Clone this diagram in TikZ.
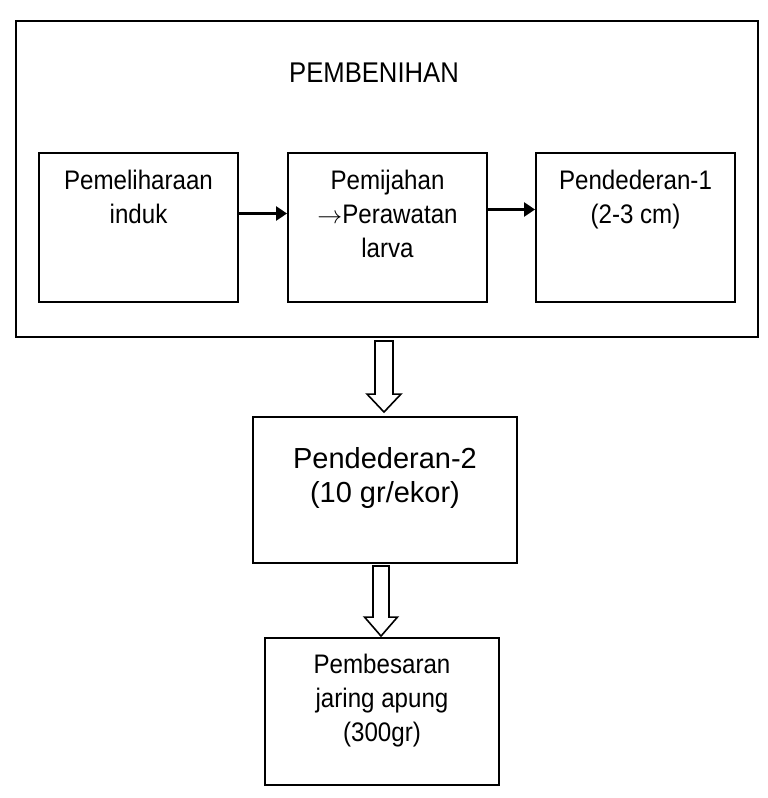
\documentclass[tikz,border=0pt]{standalone}
\usepackage{fontspec}
\setmainfont{Liberation Sans}
\newfontfamily\narrowfont[FakeStretch=0.9]{Liberation Sans}
\usetikzlibrary{calc,arrows.meta}
\begin{document}
\begin{tikzpicture}[x=1pt,y=-1pt,
  box/.style={draw, line width=1.9pt, inner sep=0pt},
  txt/.style={align=center, inner sep=0pt, anchor=north, font=\fontsize{26.8}{34}\selectfont\narrowfont},
  bigtxt/.style={align=center, inner sep=0pt, anchor=north, font=\fontsize{29}{34}\selectfont},
  conn/.style={line width=2.4pt, -{Triangle[length=11pt,width=14pt]}},
  hollow/.style={draw, line width=1.6pt, fill=white, line join=miter}]
\useasboundingbox (0,0) rectangle (768,798);
% outer box
\node[box, minimum width=742pt, minimum height=316pt] (outer) at (387,179) {};
\node[inner sep=0pt, font=\fontsize{28.5}{34}\selectfont\narrowfont] (title) at (374,73) {PEMBENIHAN};
% inner boxes
\node[box, minimum width=199pt, minimum height=149pt] (b1) at (138.5,227.5) {};
\node[box, minimum width=199pt, minimum height=149pt] (b2) at (387.5,227.5) {};
\node[box, minimum width=199pt, minimum height=149pt] (b3) at (635.5,227.5) {};
\node[txt] (t1) at ($(b1.north)+(0,18)$) {Pemeliharaan\\induk};
\node[txt] (t2) at ($(b2.north)+(0,18)$) {Pemijahan\\{\fontsize{30}{34}\selectfont$\rightarrow$}Perawatan\\larva};
\node[txt] (t3) at ($(b3.north)+(0,18)$) {Pendederan-1\\(2-3 cm)};
% connectors
\draw[conn] ($(b1.east)+(0,-14)$) -- ($(b2.west)+(0,-14)$);
\draw[conn] ($(b2.east)+(0,-18)$) -- ($(b3.west)+(0,-18)$);
% Pendederan-2
\node[box, minimum width=264pt, minimum height=146pt] (p2) at (385,490) {};
\node[bigtxt] (tp2) at ($(p2.north)+(0,31)$) {Pendederan-2\\(10 gr/ekor)};
% Pembesaran
\node[box, minimum width=234pt, minimum height=147pt] (p3) at (382,711.5) {};
\node[txt] (tp3) at ($(p3.north)+(0,17)$) {Pembesaran\\jaring apung\\(300gr)};
% hollow arrows
\coordinate (a1s) at ($(outer.south)+(-3,3)$);
\coordinate (a1t) at ($(p2.north)+(-1,-4)$);
\draw[hollow] ($(a1s)+(-9,0)$) -- ($(a1t)+(-9,-18)$) -- ($(a1t)+(-17,-18)$) -- (a1t)
  -- ($(a1t)+(17,-18)$) -- ($(a1t)+(9,-18)$) -- ($(a1s)+(9,0)$) -- cycle;
\coordinate (a2s) at ($(p2.south)+(-4,2)$);
\coordinate (a2t) at ($(p3.north)+(-1,-1)$);
\draw[hollow] ($(a2s)+(-8,0)$) -- ($(a2t)+(-8,-19)$) -- ($(a2t)+(-16.5,-19)$) -- (a2t)
  -- ($(a2t)+(16.5,-19)$) -- ($(a2t)+(8,-19)$) -- ($(a2s)+(8,0)$) -- cycle;
\end{tikzpicture}
\end{document}
